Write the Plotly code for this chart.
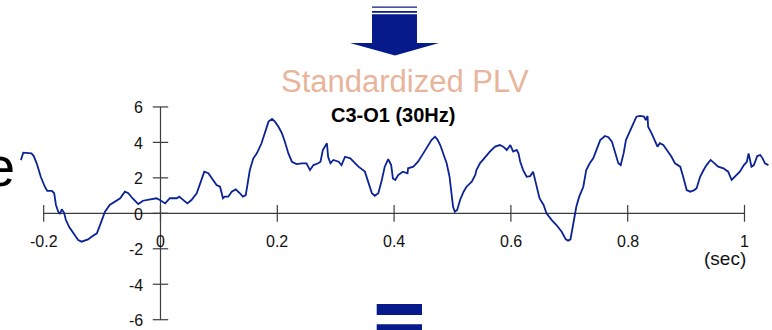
import plotly.graph_objects as go

# ---------------- data ----------------
time_s = [-0.239, -0.235, -0.221, -0.217, -0.212, -0.205, -0.198, -0.194, -0.186, -0.182,
          -0.179, -0.175, -0.172, -0.169, -0.165, -0.162, -0.156, -0.149, -0.141, -0.135,
          -0.129, -0.124, -0.118, -0.109, -0.105, -0.101, -0.095, -0.087, -0.078, -0.069,
          -0.061, -0.055, -0.048, -0.038, -0.030, -0.018, -0.007, -0.001, 0.008, 0.016,
          0.028, 0.032, 0.039, 0.046, 0.053, 0.062, 0.068, 0.075, 0.082, 0.090,
          0.096, 0.102, 0.107, 0.110, 0.116, 0.122, 0.129, 0.136, 0.141, 0.146,
          0.150, 0.153, 0.159, 0.165, 0.173, 0.179, 0.185, 0.191, 0.196, 0.202,
          0.208, 0.213, 0.219, 0.225, 0.233, 0.242, 0.250, 0.256, 0.262, 0.270,
          0.274, 0.278, 0.282, 0.285, 0.287, 0.291, 0.296, 0.305, 0.310, 0.316,
          0.325, 0.330, 0.339, 0.350, 0.356, 0.362, 0.367, 0.373, 0.379, 0.384,
          0.390, 0.395, 0.398, 0.402, 0.407, 0.415, 0.423, 0.424, 0.433, 0.441,
          0.450, 0.459, 0.464, 0.470, 0.474, 0.479, 0.484, 0.490, 0.495, 0.499,
          0.501, 0.504, 0.508, 0.513, 0.519, 0.524, 0.533, 0.539, 0.541, 0.547,
          0.556, 0.564, 0.573, 0.581, 0.587, 0.593, 0.599, 0.604, 0.610, 0.613,
          0.616, 0.621, 0.627, 0.633, 0.638, 0.644, 0.649, 0.656, 0.661, 0.670,
          0.678, 0.687, 0.694, 0.698, 0.702, 0.707, 0.712, 0.717, 0.724, 0.729,
          0.735, 0.741, 0.747, 0.753, 0.761, 0.767, 0.773, 0.778, 0.784, 0.788,
          0.793, 0.797, 0.804, 0.810, 0.815, 0.821, 0.828, 0.831, 0.834, 0.835,
          0.841, 0.847, 0.851, 0.855, 0.861, 0.867, 0.875, 0.881, 0.890, 0.895,
          0.901, 0.907, 0.914, 0.918, 0.924, 0.930, 0.935, 0.942, 0.948, 0.955,
          0.964, 0.972, 0.978, 0.984, 0.992, 0.999, 1.004, 1.007, 1.009, 1.012,
          1.016, 1.022, 1.027, 1.031, 1.035, 1.041]

plv_values = [3.00, 3.42, 3.38, 3.23, 2.82, 2.06, 1.50, 1.27, 1.27, 1.13,
              0.47, 0.09, -0.04, 0.23, 0.03, -0.38, -0.79, -1.13, -1.51, -1.60,
              -1.51, -1.47, -1.32, -1.13, -0.79, -0.47, 0.09, 0.47, 0.65, 0.85,
              1.22, 1.13, 0.85, 0.52, 0.71, 0.77, 0.85, 0.75, 0.56, 0.85,
              0.85, 0.94, 0.75, 0.56, 0.75, 1.13, 1.69, 2.35, 2.26, 1.88,
              1.60, 1.50, 0.85, 0.94, 0.94, 1.22, 1.35, 1.13, 0.94, 1.03,
              1.88, 2.44, 3.10, 3.38, 3.95, 4.51, 5.17, 5.32, 5.17, 4.88,
              4.51, 4.04, 3.38, 2.91, 2.78, 2.82, 2.82, 2.44, 2.72, 2.82,
              2.91, 3.57, 3.76, 3.95, 3.19, 2.82, 3.01, 2.91, 2.72, 3.19,
              3.10, 2.91, 2.63, 2.35, 1.69, 1.13, 0.99, 1.13, 1.88, 2.63,
              3.05, 2.72, 1.97, 1.88, 2.16, 2.35, 2.26, 2.54, 2.63, 2.91,
              3.38, 3.85, 4.13, 4.32, 4.17, 3.85, 3.38, 2.82, 2.06, 1.13,
              0.37, 0.09, 0.19, 0.75, 1.22, 1.50, 1.78, 2.16, 2.44, 2.82,
              3.19, 3.48, 3.76, 3.85, 3.76, 3.57, 3.85, 3.48, 3.57, 3.38,
              2.91, 2.44, 2.06, 2.10, 2.35, 1.50, 0.85, 0.47, 0.00, -0.38,
              -0.66, -1.04, -1.47, -1.54, -1.47, -0.56, 0.37, 0.94, 1.50, 2.44,
              2.82, 3.10, 3.67, 4.13, 4.36, 4.29, 4.04, 3.48, 2.82, 2.72,
              3.38, 4.13, 4.70, 5.08, 5.45, 5.49, 5.45, 5.26, 5.49, 4.88,
              4.51, 4.04, 3.76, 3.95, 3.85, 3.57, 3.19, 2.82, 2.63, 2.06,
              1.31, 1.22, 1.31, 1.41, 2.06, 2.44, 2.72, 3.01, 2.82, 2.63,
              2.54, 2.35, 1.88, 2.06, 2.35, 2.72, 2.91, 3.38, 3.01, 2.63,
              2.72, 3.23, 3.29, 3.10, 2.82, 2.72]

x_ticks = [-0.2, 0, 0.2, 0.4, 0.6, 0.8, 1]
x_tick_labels = ["-0.2", "0", "0.2", "0.4", "0.6", "0.8", "1"]
y_ticks = [-6, -4, -2, 0, 2, 4, 6]
y_tick_labels = ["-6", "-4", "-2", "0", "2", "4", "6"]

title_text = "Standardized PLV"
subtitle_text = "C3-O1 (30Hz)"
x_unit = "(sec)"
side_text = "e"

# ---------------- figure ----------------
W, H = 772, 330
FONT = "Liberation Sans, Arial, sans-serif"
AXIS_COLOR = "#3c3c3c"
LINE_COLOR = "#0c2396"
NAVY = "#061a8c"


def px(xp):
    return xp / W


def py(yp):
    return 1 - yp / H


fig = go.Figure()

# axis lines (x axis from first to last tick, y axis from lowest to highest tick)
fig.add_trace(go.Scatter(x=[x_ticks[0], x_ticks[-1]], y=[0, 0], mode="lines",
                         line=dict(color=AXIS_COLOR, width=1.2), hoverinfo="skip"))
fig.add_trace(go.Scatter(x=[0, 0], y=[y_ticks[0], y_ticks[-1]], mode="lines",
                         line=dict(color=AXIS_COLOR, width=1.2), hoverinfo="skip"))
# tick marks (crossing the axes)
fig.add_trace(go.Scatter(x=x_ticks, y=[0] * len(x_ticks), mode="markers",
                         marker=dict(symbol="line-ns", size=12,
                                     line=dict(color=AXIS_COLOR, width=1.2)),
                         hoverinfo="skip"))
fig.add_trace(go.Scatter(x=[0] * len(y_ticks), y=y_ticks, mode="markers",
                         marker=dict(symbol="line-ew", size=11,
                                     line=dict(color=AXIS_COLOR, width=1.2)),
                         hoverinfo="skip"))

# the PLV curve
fig.add_trace(go.Scatter(x=time_s, y=plv_values, mode="lines",
                         line=dict(color=LINE_COLOR, width=1.8), hoverinfo="skip"))

annotations = []
for v, lab in zip(x_ticks, x_tick_labels):
    annotations.append(dict(x=v, y=0, xref="x", yref="y", text=lab, showarrow=False,
                            yshift=-28, xanchor="center", yanchor="middle",
                            font=dict(family=FONT, size=16, color="#111111")))
for v, lab in zip(y_ticks, y_tick_labels):
    annotations.append(dict(x=0, y=v, xref="x", yref="y", text=lab, showarrow=False,
                            xshift=-15, yshift=-1, xanchor="right", yanchor="middle",
                            font=dict(family=FONT, size=16, color="#111111")))
annotations.append(dict(x=x_ticks[-1], y=0, xref="x", yref="y", text=x_unit,
                        showarrow=False, xshift=4, yshift=-45, xanchor="right",
                        yanchor="middle",
                        font=dict(family=FONT, size=19, color="#111111")))
annotations.append(dict(x=px(405), y=py(81), xref="paper", yref="paper", text=title_text,
                        showarrow=False, xanchor="center", yanchor="middle",
                        font=dict(family=FONT, size=31, color="#e8b59c")))
annotations.append(dict(x=px(393), y=py(115), xref="paper", yref="paper",
                        text="<b>" + subtitle_text + "</b>",
                        showarrow=False, xanchor="center", yanchor="middle",
                        font=dict(family=FONT, size=20, color="#000000")))
annotations.append(dict(x=px(17), y=py(166), xref="paper", yref="paper", text=side_text,
                        showarrow=False, xanchor="right", yanchor="middle",
                        font=dict(family=FONT, size=56, color="#000000")))

shapes = [
    # arrow: two thin bars, shaft and head
    dict(type="rect", xref="paper", yref="paper", x0=px(372), x1=px(417),
         y0=py(7.8), y1=py(6.4), fillcolor=NAVY, line=dict(width=0)),
    dict(type="rect", xref="paper", yref="paper", x0=px(372), x1=px(417),
         y0=py(12.8), y1=py(11.0), fillcolor=NAVY, line=dict(width=0)),
    dict(type="rect", xref="paper", yref="paper", x0=px(372), x1=px(417),
         y0=py(43.5), y1=py(14.3), fillcolor=NAVY, line=dict(width=0)),
    dict(type="path", xref="paper", yref="paper",
         path=f"M {px(350)} {py(43)} L {px(439)} {py(43)} L {px(395)} {py(55.5)} Z",
         fillcolor=NAVY, line=dict(width=0)),
    # equals sign at the bottom
    dict(type="rect", xref="paper", yref="paper", x0=px(376.7), x1=px(422),
         y0=py(315), y1=py(304), fillcolor=NAVY, line=dict(width=0)),
    dict(type="rect", xref="paper", yref="paper", x0=px(376.7), x1=px(422),
         y0=py(331), y1=py(324.3), fillcolor=NAVY, line=dict(width=0)),
]

# axis ranges chosen so the plot maps onto the full canvas
x_min, x_max = -0.2748, 1.0471
y_min, y_max = -6.58, 12.03

fig.update_layout(
    width=W, height=H,
    margin=dict(l=0, r=0, t=0, b=0),
    paper_bgcolor="white", plot_bgcolor="white",
    showlegend=False,
    annotations=annotations,
    shapes=shapes,
    xaxis=dict(range=[x_min, x_max], visible=False, fixedrange=True),
    yaxis=dict(range=[y_min, y_max], visible=False, fixedrange=True),
)

fig.write_html(
    "out.html",
    config={"displayModeBar": False},
    post_script="document.body.style.margin='0px';document.body.style.overflow='hidden';",
)
